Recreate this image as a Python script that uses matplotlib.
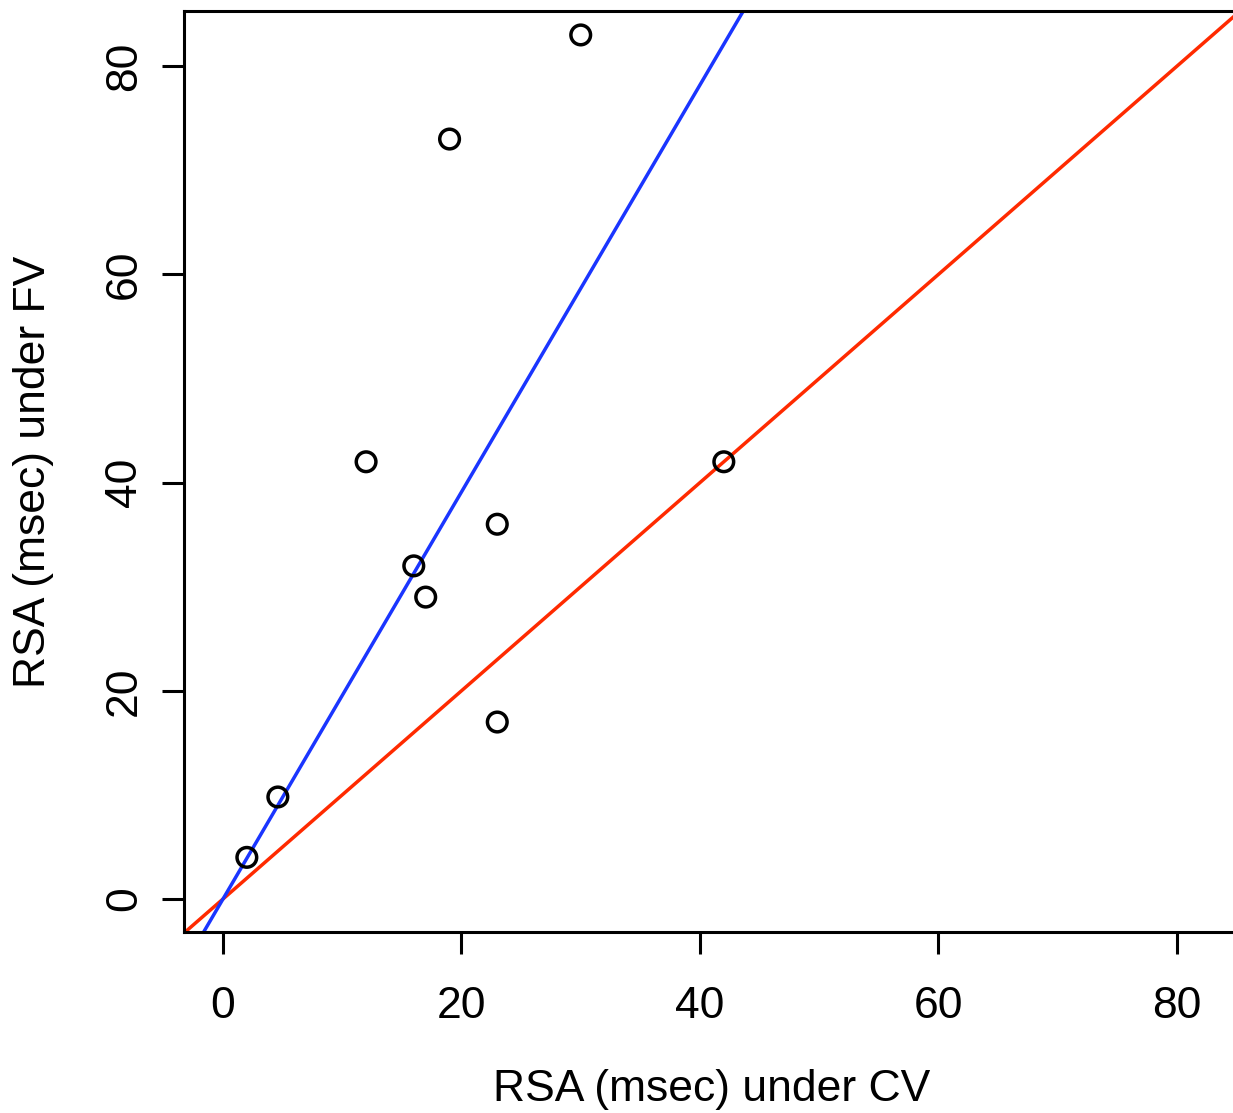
import matplotlib
matplotlib.use("Agg")
import matplotlib.pyplot as plt
import numpy as np

# RSA values (msec)
rsa_cv = [2, 4.6, 12, 16, 17, 19, 23, 23, 30, 42]
rsa_fv = [4, 9.8, 42, 32, 29, 73, 36, 17, 83, 42]
fit_slope = 1.955
ticks = [0, 20, 40, 60, 80]

plt.rcParams['font.family'] = ['Liberation Sans', 'DejaVu Sans']

W, H = 1233, 1113
fig = plt.figure(figsize=(W / 100, H / 100), dpi=100)
ax = fig.add_axes([184 / W, (H - 932) / H, (1240 - 184) / W, (932 - 11) / H])

ax.set_xlim(-3.27, 84.7 + (1240 - 1233) / 11.92)
ax.set_ylim(-3.17, 85.3)

ax.scatter(rsa_cv, rsa_fv, s=200, facecolors='none', edgecolors='black',
           linewidths=2.5, zorder=3)

xx = np.array([-10, 100])
ax.plot(xx, xx, color='#ff2a00', lw=2.5, zorder=2)
ax.plot(xx, fit_slope * xx, color='#1a35ff', lw=2.5, zorder=2)

ax.set_xticks(ticks)
ax.set_yticks(ticks)
ax.set_yticklabels([str(t) for t in ticks], rotation=90, va='center')
ax.tick_params(axis='both', direction='out', length=16, width=2.2,
               labelsize=32, pad=12)
ax.tick_params(axis='x', pad=23)
for s in ax.spines.values():
    s.set_linewidth(2.2)

ax.set_xlabel('RSA (msec) under CV', fontsize=32, labelpad=30)
ax.set_ylabel('RSA (msec) under FV', fontsize=32, labelpad=36)

fig.savefig('out.png', dpi=100)
